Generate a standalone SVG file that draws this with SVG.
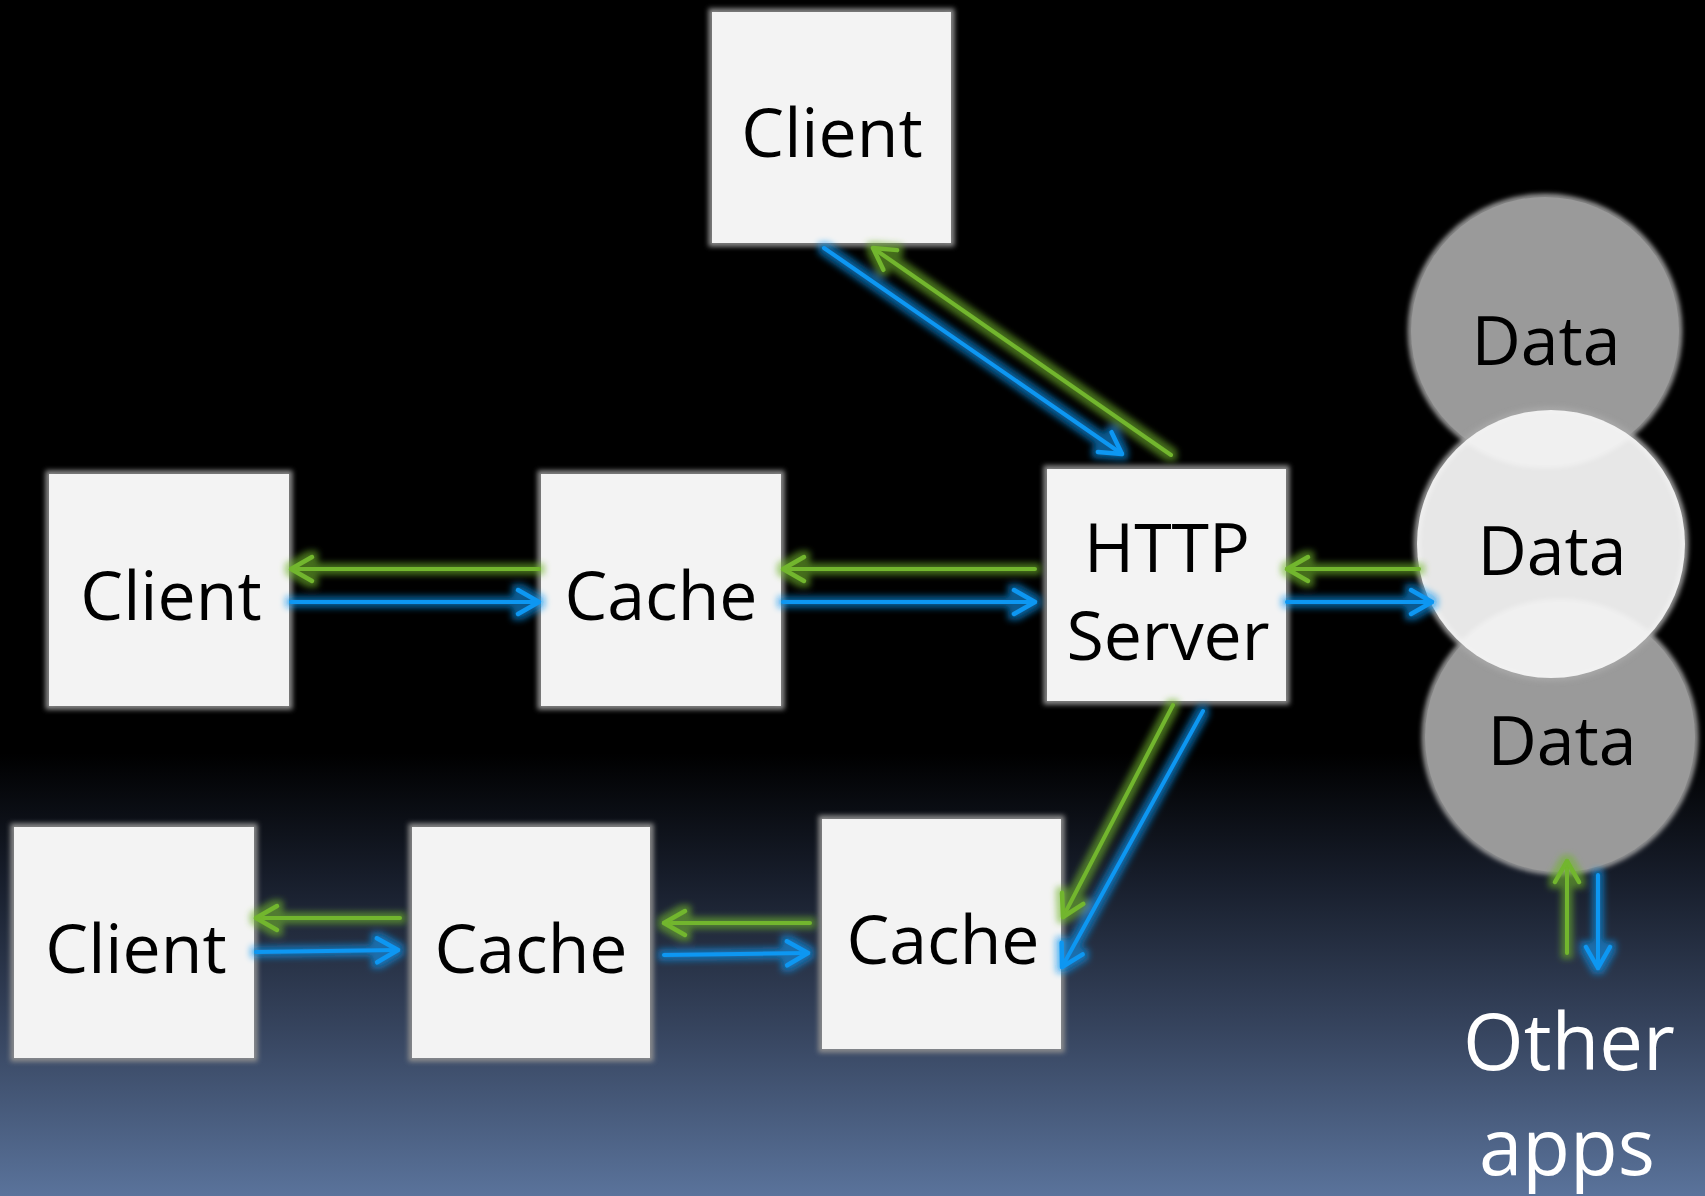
<svg xmlns="http://www.w3.org/2000/svg" width="1705" height="1196" viewBox="0 0 1705 1196">
  <defs>
    <linearGradient id="bg" gradientUnits="userSpaceOnUse" x1="0" y1="0" x2="0" y2="1196">
      <stop offset="0" stop-color="#000000"/>
      <stop offset="0.63" stop-color="#000000"/>
      <stop offset="0.73" stop-color="#161c29"/>
      <stop offset="0.86" stop-color="#36445e"/>
      <stop offset="1" stop-color="#5a739b"/>
    </linearGradient>
    <filter id="soft" x="-10%" y="-10%" width="120%" height="120%">
      <feGaussianBlur stdDeviation="2.5"/>
    </filter>
    <filter id="glow" filterUnits="userSpaceOnUse" x="0" y="0" width="1705" height="1196">
      <feMorphology in="SourceGraphic" operator="dilate" radius="4" result="d"/>
      <feGaussianBlur in="d" stdDeviation="3" result="b"/>
      <feComponentTransfer in="b" result="bo">
        <feFuncA type="linear" slope="0.6"/>
      </feComponentTransfer>
      <feMerge>
        <feMergeNode in="bo"/>
        <feMergeNode in="SourceGraphic"/>
      </feMerge>
    </filter>
    <marker id="headG" markerUnits="userSpaceOnUse" viewBox="-26 -16 30 32" markerWidth="30" markerHeight="32" refX="0" refY="0" orient="auto">
      <path d="M-21,-12 L0,0 L-21,12" fill="none" stroke="#72b62d" stroke-width="4.5" stroke-linecap="round" stroke-linejoin="round"/>
    </marker>
    <marker id="headB" markerUnits="userSpaceOnUse" viewBox="-26 -16 30 32" markerWidth="30" markerHeight="32" refX="0" refY="0" orient="auto">
      <path d="M-21,-12 L0,0 L-21,12" fill="none" stroke="#1197f2" stroke-width="4.5" stroke-linecap="round" stroke-linejoin="round"/>
    </marker>
  </defs>
  <style>
    .halo { fill: none; stroke: #8f8f8f; stroke-width: 7; filter: url(#soft); }
    .box { fill: #f3f3f3; }
    .lbl { font-family: "Open Sans", "Noto Sans", sans-serif; font-size: 68px; fill: #000000; text-anchor: middle; }
    .out { font-family: "Open Sans", "Noto Sans", sans-serif; font-size: 78px; fill: #ffffff; text-anchor: middle; }
    .grayc { fill: #9a9a9a; }
    .whitec { fill: #f5f5f5; fill-opacity: 0.94; }
    .chalo { fill: none; stroke: #a8a8a8; stroke-width: 6; filter: url(#soft); }
    .g { fill: none; stroke: #72b62d; stroke-width: 4; stroke-linecap: round; marker-end: url(#headG); }
    .b { fill: none; stroke: #1197f2; stroke-width: 4; stroke-linecap: round; marker-end: url(#headB); }
  </style>

  <rect x="0" y="0" width="1705" height="1196" fill="url(#bg)"/>

  <g id="client-top">
    <rect class="halo" x="712" y="12" width="239" height="231"/>
    <rect class="box" x="712" y="12" width="239" height="231"/>
    <text class="lbl" x="832" y="157">Client</text>
  </g>

  <g id="client-mid">
    <rect class="halo" x="49" y="474" width="240" height="232"/>
    <rect class="box" x="49" y="474" width="240" height="232"/>
    <text class="lbl" x="171" y="620">Client</text>
  </g>

  <g id="cache-mid">
    <rect class="halo" x="541" y="474" width="240" height="232"/>
    <rect class="box" x="541" y="474" width="240" height="232"/>
    <text class="lbl" x="661" y="620">Cache</text>
  </g>

  <g id="http-server">
    <rect class="halo" x="1047" y="469" width="239" height="232"/>
    <rect class="box" x="1047" y="469" width="239" height="232"/>
    <text class="lbl" x="1167" y="572">HTTP</text>
    <text class="lbl" x="1168" y="660">Server</text>
  </g>

  <g id="client-bottom">
    <rect class="halo" x="14" y="827" width="240" height="231"/>
    <rect class="box" x="14" y="827" width="240" height="231"/>
    <text class="lbl" x="136" y="973">Client</text>
  </g>

  <g id="cache-bottom-1">
    <rect class="halo" x="412" y="827" width="238" height="231"/>
    <rect class="box" x="412" y="827" width="238" height="231"/>
    <text class="lbl" x="531" y="973">Cache</text>
  </g>

  <g id="cache-bottom-2">
    <rect class="halo" x="822" y="819" width="239" height="230"/>
    <rect class="box" x="822" y="819" width="239" height="230"/>
    <text class="lbl" x="943" y="964">Cache</text>
  </g>

  <g id="data-top">
    <circle class="chalo" cx="1545" cy="331" r="134"/>
    <circle class="grayc" cx="1545" cy="331" r="134"/>
    <text class="lbl" x="1546" y="365">Data</text>
  </g>

  <g id="data-bottom">
    <circle class="chalo" cx="1560" cy="737" r="135"/>
    <circle class="grayc" cx="1560" cy="737" r="135"/>
    <text class="lbl" x="1562" y="765">Data</text>
  </g>

  <g id="data-middle">
    <circle class="chalo" cx="1551" cy="544" r="134"/>
    <circle class="whitec" cx="1551" cy="544" r="134"/>
    <text class="lbl" x="1552" y="575">Data</text>
  </g>

  <g id="other-apps">
    <text class="out" x="1569" y="1070">Other</text>
    <text class="out" x="1567" y="1175">apps</text>
  </g>

  <g id="connectors" filter="url(#glow)">
    <path class="b" d="M824,248 L1122,454"/>
    <path class="g" d="M1171,455 L873,248"/>
    <path class="g" d="M539,569 L291,569"/>
    <path class="b" d="M291,602 L539,602"/>
    <path class="g" d="M1035,569 L783,569"/>
    <path class="b" d="M783,602 L1035,602"/>
    <path class="g" d="M1419,569 L1287,569"/>
    <path class="b" d="M1287,602 L1432,602"/>
    <path class="g" d="M1173,705 L1063,917"/>
    <path class="b" d="M1203,711 L1062,967"/>
    <path class="g" d="M810,923 L664,923"/>
    <path class="b" d="M664,955 L808,953"/>
    <path class="g" d="M400,918 L256,918"/>
    <path class="b" d="M256,952 L398,950"/>
    <path class="g" d="M1567,953 L1567,861"/>
    <path class="b" d="M1598,875 L1598,968"/>
  </g>
</svg>
